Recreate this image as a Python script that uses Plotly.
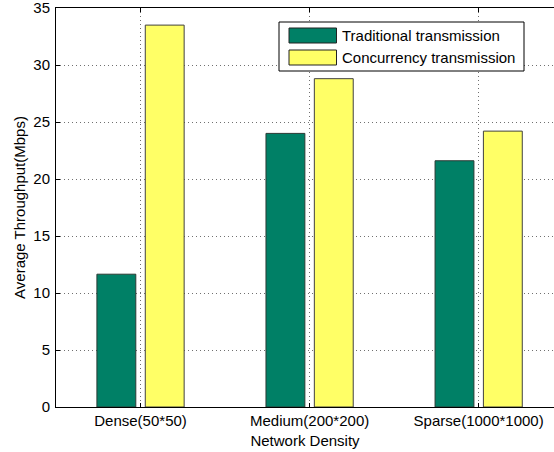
import plotly.graph_objects as go

categories = ["Dense(50*50)", "Medium(200*200)", "Sparse(1000*1000)"]
traditional = [11.65, 24.0, 21.6]
concurrency = [33.5, 28.8, 24.2]
series_names = ["Traditional transmission", "Concurrency transmission"]
series_colors = ["#008066", "#FFFF66"]
y_ticks = [0, 5, 10, 15, 20, 25, 30, 35]

x_pos = [1, 2, 3]
FONT = "Liberation Sans, Arial, sans-serif"
FS = 15

W, H = 554, 452
ML, MR, MT, MB = 56, 0, 8, 45
PW, PH = W - ML - MR, H - MT - MB


def px(x):
    return (x - ML) / PW


def py(y):
    return (H - MB - y) / PH


fig = go.Figure()
fig.add_trace(go.Bar(
    x=x_pos, y=traditional, name=series_names[0],
    width=0.23, offset=-0.258, showlegend=False,
    marker=dict(color=series_colors[0], line=dict(color="#2a3a34", width=1)),
))
fig.add_trace(go.Bar(
    x=x_pos, y=concurrency, name=series_names[1],
    width=0.23, offset=0.028, showlegend=False,
    marker=dict(color=series_colors[1], line=dict(color="#404040", width=1)),
))

# Custom legend (MATLAB style wide swatches)
shapes = [dict(type="rect", xref="paper", yref="paper",
               x0=px(279), x1=px(524), y0=py(71), y1=py(22),
               line=dict(color="black", width=1), fillcolor="white", layer="above")]
annotations = []
row_centers = [35.5, 57.5]
for name, col, rc in zip(series_names, series_colors, row_centers):
    shapes.append(dict(type="rect", xref="paper", yref="paper",
                       x0=px(289), x1=px(336.5), y0=py(rc + 7.5), y1=py(rc - 7.5),
                       line=dict(color="#222222", width=1), fillcolor=col, layer="above"))
    annotations.append(dict(xref="paper", yref="paper", x=px(340), y=py(rc),
                            xanchor="left", yanchor="middle", showarrow=False,
                            text=name, font=dict(family=FONT, size=FS, color="black")))

GRID = dict(showgrid=True, gridcolor="#707070", griddash="1px,3px", gridwidth=1)

fig.update_layout(
    width=W, height=H,
    margin=dict(l=ML, r=MR, t=MT, b=MB, autoexpand=False),
    paper_bgcolor="white", plot_bgcolor="white",
    barmode="overlay",
    font=dict(family=FONT, size=FS, color="black"),
    showlegend=False,
    shapes=shapes, annotations=annotations,
    xaxis=dict(
        range=[0.5, 3.4456],
        tickvals=x_pos, ticktext=categories,
        showline=True, linecolor="black", linewidth=1, mirror="ticks",
        ticks="inside", ticklen=4, tickcolor="black",
        zeroline=False, fixedrange=True, ticklabeloverflow="allow",
        title=dict(text="Network Density", font=dict(family=FONT, size=FS), standoff=7),
        automargin=False, **GRID,
    ),
    yaxis=dict(
        range=[0, 35.0001], tickvals=y_ticks,
        showline=True, linecolor="black", linewidth=1, mirror=False,
        ticks="inside", ticklen=4, tickcolor="black",
        zeroline=False, fixedrange=True, ticklabelstandoff=2,
        ticklabeloverflow="allow",
        title=dict(text="Average Throughput(Mbps)", font=dict(family=FONT, size=FS), standoff=4),
        automargin=False, **GRID,
    ),
)

fig.write_html(
    "out.html",
    config={"displayModeBar": False, "staticPlot": True},
    post_script="document.body.style.margin='0px';document.body.style.overflow='hidden';",
)
